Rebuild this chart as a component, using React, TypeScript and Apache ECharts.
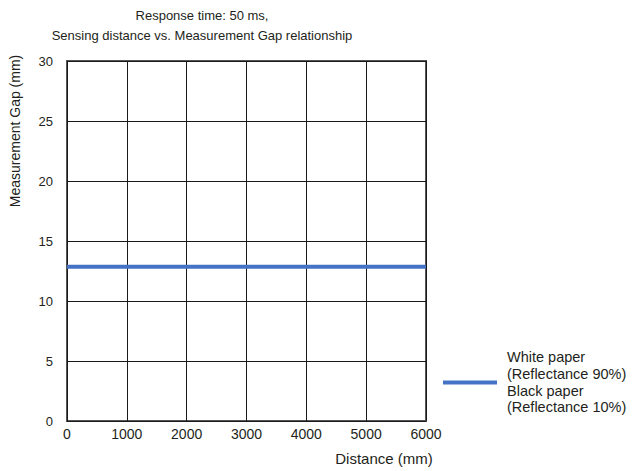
import React, { useEffect, useRef } from "react";
import * as echarts from "echarts";

const distances = [0, 6000];
const gapValues = [12.85, 12.85];
const xTicks = [0, 1000, 2000, 3000, 4000, 5000, 6000];
const yTicks = [0, 5, 10, 15, 20, 25, 30];
const seriesName = "White paper\n(Reflectance 90%)\nBlack paper\n(Reflectance 10%)";
const titleText = "Response time: 50 ms,\nSensing distance vs. Measurement Gap relationship";

const FONT = "'Liberation Sans', Arial, Helvetica, sans-serif";
const TXT = "#231f20";

export default function App() {
  const ref = useRef<HTMLDivElement>(null);
  useEffect(() => {
    if (!ref.current) return;
    const chart = echarts.init(ref.current, undefined, { renderer: "svg" });
    chart.setOption({
      animation: false,
      backgroundColor: "#ffffff",
      textStyle: { fontFamily: FONT, color: TXT },
      title: {
        text: titleText,
        left: 202,
        top: 5,
        padding: 0,
        textAlign: "center",
        textStyle: { fontFamily: FONT, fontSize: 13, fontWeight: "normal", color: TXT, lineHeight: 20 },
      },
      grid: {
        left: 67,
        right: 207,
        top: 61,
        bottom: 50,
        show: true,
        borderColor: "#555555",
        borderWidth: 2,
        backgroundColor: "transparent",
      },
      legend: {
        orient: "vertical",
        left: 443,
        top: 349,
        padding: 0,
        icon: "rect",
        itemWidth: 54,
        itemHeight: 4,
        textStyle: { fontFamily: FONT, fontSize: 14.5, color: TXT, lineHeight: 16.7, padding: [0, 0, 0, 5] },
        data: [seriesName],
      },
      xAxis: {
        type: "value",
        min: xTicks[0],
        max: xTicks[xTicks.length - 1],
        interval: 1000,
        axisLine: { show: false },
        axisTick: { show: false },
        axisLabel: { fontFamily: FONT, fontSize: 14, color: TXT, margin: 6, formatter: (v: number) => String(v) },
        splitLine: { show: true, lineStyle: { color: "#1a1a1a", width: 1 } },
      },
      yAxis: {
        type: "value",
        min: yTicks[0],
        max: yTicks[yTicks.length - 1],
        interval: 5,
        axisLine: { show: false },
        axisTick: { show: false },
        axisLabel: { fontFamily: FONT, fontSize: 13, color: TXT, margin: 14, formatter: (v: number) => String(v) },
        splitLine: { show: true, lineStyle: { color: "#1a1a1a", width: 1 } },
      },
      graphic: [
        {
          type: "text",
          x: 15,
          y: 131,
          rotation: Math.PI / 2,
          style: {
            text: "Measurement Gap (mm)",
            fontFamily: FONT,
            fontSize: 14,
            fill: TXT,
            align: "center",
            verticalAlign: "middle",
          },
        },
        {
          type: "text",
          x: 384,
          y: 458,
          style: {
            text: "Distance (mm)",
            fontFamily: FONT,
            fontSize: 15,
            fill: TXT,
            align: "center",
            verticalAlign: "middle",
          },
        },
      ],
      series: [
        {
          name: seriesName,
          type: "line",
          data: distances.map((d, i) => [d, gapValues[i]]),
          showSymbol: false,
          symbol: "none",
          lineStyle: { color: "#4472c4", width: 4 },
          itemStyle: { color: "#4472c4" },
        },
      ],
    });
    return () => chart.dispose();
  }, []);
  return (
    <div
      ref={ref}
      style={{ position: "absolute", left: 0, top: 0, width: 633, height: 471 }}
    />
  );
}
